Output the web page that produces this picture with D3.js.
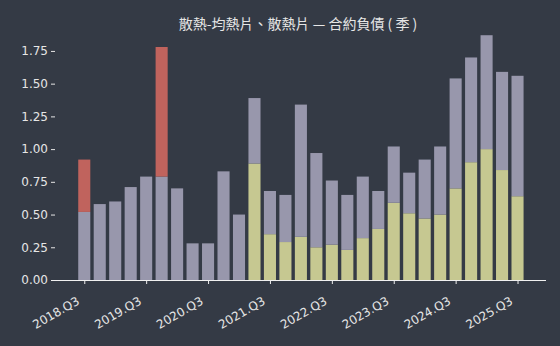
<!DOCTYPE html>
<html>
<head>
<meta charset="utf-8">
<script src="https://cdn.jsdelivr.net/npm/d3@7"></script>
<style>
  html, body { margin: 0; padding: 0; background: #343a45; }
  svg { display: block; }
  text { font-family: "DejaVu Sans", "Noto Sans CJK TC", sans-serif; }
</style>
</head>
<body>
<svg id="chart" width="560" height="346"></svg>
<script>
// Quarterly contract liabilities, 2018.Q3 – 2025.Q3
const quarters = [
  "2018.Q3","2018.Q4","2019.Q1","2019.Q2","2019.Q3","2019.Q4","2020.Q1","2020.Q2",
  "2020.Q3","2020.Q4","2021.Q1","2021.Q2","2021.Q3","2021.Q4","2022.Q1","2022.Q2",
  "2022.Q3","2022.Q4","2023.Q1","2023.Q2","2023.Q3","2023.Q4","2024.Q1","2024.Q2",
  "2024.Q3","2024.Q4","2025.Q1","2025.Q2","2025.Q3"
];
// bottom segment (yellow-green)
const seriesA = [0,0,0,0,0,0,0,0,0,0,0,
  0.89,0.35,0.29,0.33,0.25,0.27,0.23,0.32,0.39,0.59,0.51,0.47,0.50,0.70,0.90,1.00,0.84,0.64];
// middle segment (grey-violet)
const seriesB = [0.52,0.58,0.60,0.71,0.79,0.79,0.70,0.28,0.28,0.83,0.50,
  0.50,0.33,0.36,1.01,0.72,0.49,0.42,0.47,0.29,0.43,0.31,0.45,0.52,0.84,0.80,0.87,0.75,0.92];
// top segment (red)
const seriesC = [0.40,0,0,0,0,0.99,0,0,0,0,0,
  0,0,0,0,0,0,0,0,0,0,0,0,0,0,0,0,0,0];
const yTicks = [0, 0.25, 0.5, 0.75, 1.0, 1.25, 1.5, 1.75];
const xTickLabels = ["2018.Q3","2019.Q3","2020.Q3","2021.Q3","2022.Q3","2023.Q3","2024.Q3","2025.Q3"];

const keys = ["a", "b", "c"];
const colors = { a: "#c6c891", b: "#9897ac", c: "#c0635d" };
const rows = quarters.map((q, i) => ({ q, i, a: seriesA[i], b: seriesB[i], c: seriesC[i] }));
const stacked = d3.stack().keys(keys)(rows);

const svg = d3.select("#chart");
const plotLeft = 51, plotRight = 546, plotTop = 35, plotBottom = 280;

const x = d3.scaleLinear().domain([-2.15, quarters.length - 1 + 1.84]).range([plotLeft, plotRight]);
const step = x(1) - x(0);
const barW = step * 0.78;
const y = d3.scaleLinear().domain([0, (plotBottom - plotTop) / 130.9]).range([plotBottom, plotTop]);

svg.append("text")
  .attr("x", 298).attr("y", 29)
  .attr("text-anchor", "middle")
  .attr("fill", "#e6e6e6")
  .attr("font-size", 14)
  .style("font-family", '"Noto Sans CJK TC", sans-serif')
  .text("散熱-均熱片、散熱片 — 合約負債 ( 季 )");

svg.append("g").selectAll("g")
  .data(stacked)
  .join("g")
  .attr("fill", d => colors[d.key])
  .selectAll("rect")
  .data(d => d)
  .join("rect")
  .attr("x", d => x(d.data.i) - barW / 2)
  .attr("width", barW)
  .attr("y", d => y(d[1]))
  .attr("height", d => Math.max(0, y(d[0]) - y(d[1])));

// y axis: labels and short ticks, no spine
const yAxis = d3.axisLeft(y).tickValues(yTicks).tickFormat(d3.format(".2f")).tickSize(4).tickPadding(3);
const gy = svg.append("g").attr("transform", `translate(${plotLeft + 4},0)`).call(yAxis);
gy.select(".domain").remove();
gy.selectAll("line").attr("stroke", "#e6e6e6");
gy.selectAll("text").attr("fill", "#e6e6e6").attr("font-size", 12);

// x axis
const xAxis = d3.axisBottom(x)
  .tickValues(xTickLabels.map(l => quarters.indexOf(l)))
  .tickFormat(i => quarters[i])
  .tickSize(4).tickSizeOuter(0).tickPadding(2);
const gx = svg.append("g").attr("transform", `translate(0,${plotBottom})`).call(xAxis);
gx.select(".domain").attr("stroke", "#f0f0f0").attr("d", `M${plotLeft},0.5H${plotRight}`);
gx.selectAll("line").attr("stroke", "#f0f0f0");
gx.selectAll("text")
  .attr("fill", "#e6e6e6")
  .attr("font-size", 12)
  .attr("text-anchor", "end")
  .attr("dy", "0.6em")
  .attr("transform", "translate(-11,12) rotate(-30)");
</script>
</body>
</html>
